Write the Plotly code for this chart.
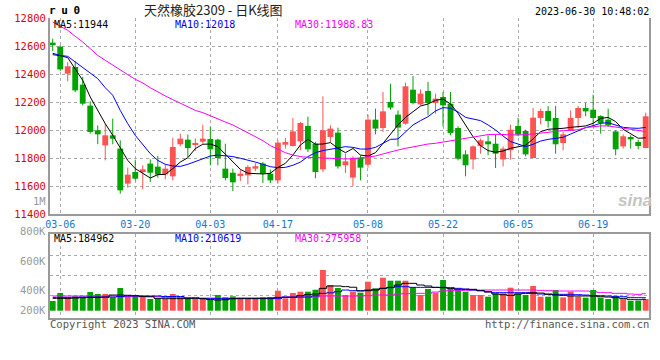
import plotly.graph_objects as go

# ---------------- data ----------------
dates = ["03-03",
         "03-06", "03-07", "03-08", "03-09", "03-10", "03-13", "03-14", "03-15", "03-16", "03-17",
         "03-20", "03-21", "03-22", "03-23", "03-24", "03-27", "03-28", "03-29", "03-30", "03-31",
         "04-03", "04-04", "04-06", "04-07", "04-10", "04-11", "04-12", "04-13", "04-14",
         "04-17", "04-18", "04-19", "04-20", "04-21", "04-24", "04-25", "04-26", "04-27", "04-28",
         "05-04", "05-05",
         "05-08", "05-09", "05-10", "05-11", "05-12", "05-15", "05-16", "05-17", "05-18", "05-19",
         "05-22", "05-23", "05-24", "05-25", "05-26", "05-29", "05-30", "05-31", "06-01", "06-02",
         "06-05", "06-06", "06-07", "06-08", "06-09", "06-12", "06-13", "06-14", "06-15", "06-16",
         "06-19", "06-20", "06-21", "06-26", "06-27", "06-28", "06-29", "06-30"]

opens = [12624, 12595, 12402, 12450, 12324, 12174, 11998, 11890, 11962, 11867,
         11617, 11700, 11700, 11760, 11738, 11683, 11669, 11898, 11931, 11895,
         11917, 11936, 11931, 11724, 11695, 11671, 11676, 11724, 11760, 11688,
         11640, 11895, 11886, 11919, 12029, 11902, 11719, 11950, 11981, 11748,
         11660, 11800, 11752, 12074, 12014, 12200, 12110, 12045, 12288, 12183,
         12279, 12193, 12236, 12188, 12014, 11826, 11790, 11886, 11919, 11902,
         11790, 11855, 12029, 11993, 11800, 12086, 12136, 12086, 11907, 11993,
         12086, 12157, 12145, 12100, 12074, 11990, 11883, 11950, 11914, 11871]
highs = [12652, 12605, 12486, 12490, 12379, 12205, 12033, 12045, 12081, 11926,
         11731, 11788, 11748, 11790, 11814, 11755, 11943, 11974, 11967, 11940,
         12038, 12021, 11938, 11902, 11724, 11717, 11748, 11764, 11771, 11717,
         11926, 11943, 12086, 12057, 12095, 11914, 12240, 12033, 12017, 11831,
         11812, 11819, 12110, 12152, 12271, 12331, 12140, 12338, 12386, 12290,
         12343, 12260, 12271, 12271, 12026, 11855, 11890, 11938, 11962, 11969,
         11883, 12038, 12086, 12002, 12157, 12152, 12171, 12171, 11986, 12140,
         12171, 12193, 12252, 12105, 12152, 11998, 11969, 11962, 11931, 12124]
lows = [12564, 12421, 12348, 12271, 12176, 11974, 11898, 11783, 11898, 11545,
        11588, 11640, 11576, 11629, 11660, 11648, 11640, 11883, 11807, 11850,
        11902, 11748, 11748, 11640, 11564, 11636, 11612, 11707, 11621, 11621,
        11617, 11867, 11883, 11855, 11843, 11655, 11700, 11914, 11724, 11693,
        11598, 11640, 11731, 11969, 11986, 12145, 11883, 12038, 12183, 12176,
        12105, 12117, 12026, 11962, 11783, 11669, 11719, 11831, 11819, 11729,
        11740, 11788, 11955, 11812, 11800, 12040, 12017, 11831, 11855, 11993,
        12014, 12098, 12026, 11974, 12021, 11819, 11867, 11867, 11862, 11871]
closes = [12605, 12433, 12455, 12283, 12188, 11986, 11969, 11962, 11938, 11569,
          11681, 11652, 11719, 11695, 11681, 11724, 11879, 11938, 11871, 11907,
          11938, 11862, 11800, 11657, 11626, 11688, 11736, 11741, 11688, 11640,
          11910, 11914, 11990, 12050, 11862, 11700, 11998, 12010, 11740, 11776,
          11802, 11731, 12074, 12010, 12133, 12160, 12017, 12312, 12193, 12260,
          12193, 12224, 12176, 11979, 11795, 11748, 11883, 11926, 11898, 11831,
          11867, 12002, 11967, 11826, 12088, 12136, 12064, 11898, 11969, 12086,
          12157, 12133, 12086, 12050, 12033, 11862, 11955, 11933, 11886, 12098]

ma5 = [12538, 12531, 12517, 12438, 12355, 12236, 12140, 12045, 11962, 11867,
       11783, 11724, 11693, 11657, 11681, 11683, 11724, 11771, 11802, 11867,
       11898, 11900, 11881, 11829, 11774, 11719, 11691, 11686, 11686, 11691,
       11733, 11762, 11821, 11893, 11933, 11898, 11900, 11910, 11869, 11838,
       11868, 11821, 11814, 11838, 11905, 11971, 12036, 12090, 12131, 12171,
       12186, 12212, 12221, 12186, 12119, 12036, 11952, 11888, 11853, 11841,
       11850, 11869, 11881, 11891, 11936, 11988, 12005, 12007, 12012, 12019,
       12024, 12029, 12048, 12083, 12090, 12060, 12005, 11972, 11941, 11944]
ma10 = [12548, 12533, 12526, 12486, 12450, 12407, 12367, 12302, 12248, 12140,
        12045, 11962, 11898, 11831, 11783, 11755, 11743, 11740, 11755, 11776,
        11795, 11814, 11821, 11817, 11810, 11798, 11786, 11771, 11755, 11738,
        11731, 11733, 11748, 11771, 11810, 11838, 11853, 11864, 11874, 11881,
        11876, 11864, 11864, 11876, 11905, 11933, 11936, 11988, 12036, 12067,
        12095, 12136, 12160, 12155, 12129, 12090, 12081, 12067, 12036, 12000,
        11957, 11917, 11900, 11881, 11898, 11921, 11933, 11938, 11948, 11971,
        11995, 12017, 12031, 12048, 12052, 12036, 12019, 12014, 12012, 12018]
ma30 = [12771, 12740, 12712, 12669, 12629, 12581, 12533, 12498, 12462, 12426,
        12395, 12362, 12336, 12302, 12271, 12243, 12217, 12193, 12169, 12140,
        12124, 12100, 12081, 12057, 12036, 12007, 11983, 11952, 11924, 11888,
        11862, 11838, 11821, 11810, 11805, 11802, 11800, 11798, 11793, 11793,
        11795, 11802, 11810, 11814, 11829, 11845, 11857, 11869, 11881, 11891,
        11900, 11905, 11914, 11924, 11931, 11941, 11948, 11957, 11967, 11969,
        11967, 11964, 11964, 11967, 11971, 11976, 11983, 11991, 11995, 11998,
        12002, 12017, 12024, 12029, 12029, 12022, 12014, 12007, 12000, 11988.83]

volumes = [157000, 287000, 217000, 233000, 217000, 303000, 271000, 271000, 217000, 368000,
           233000, 233000, 233000, 190000, 201000, 190000, 271000, 217000, 201000, 190000,
           190000, 173000, 254000, 217000, 233000, 190000, 190000, 190000, 217000, 217000,
           324000, 201000, 287000, 308000, 308000, 340000, 659000, 416000, 368000, 254000,
           308000, 292000, 470000, 362000, 535000, 486000, 486000, 486000, 378000, 254000,
           351000, 292000, 497000, 362000, 335000, 308000, 254000, 254000, 227000, 281000,
           281000, 373000, 281000, 254000, 400000, 227000, 227000, 335000, 216000, 308000,
           227000, 211000, 335000, 211000, 189000, 243000, 189000, 162000, 162000, 189000]
vol_ma5 = [200000, 200000, 200000, 205000, 210000, 216000, 216000, 220000, 254000, 254000,
           250000, 243000, 232000, 227000, 200000, 195000, 195000, 195000, 195000, 200000,
           195000, 180000, 173000, 178000, 195000, 200000, 200000, 200000, 200000, 205000,
           216000, 216000, 216000, 243000, 260000, 270000, 362000, 400000, 400000, 390000,
           380000, 320000, 324000, 335000, 362000, 378000, 416000, 443000, 443000, 416000,
           400000, 378000, 373000, 362000, 346000, 346000, 346000, 324000, 302000, 270000,
           259000, 248000, 270000, 281000, 292000, 286000, 265000, 254000, 248000, 238000,
           238000, 238000, 238000, 227000, 221000, 211000, 200000, 184000, 178000, 184962]
vol_ma10 = [216000, 216000, 216000, 216000, 221000, 221000, 221000, 221000, 221000, 230000,
            238000, 238000, 238000, 238000, 238000, 230000, 230000, 230000, 205000, 205000,
            195000, 195000, 195000, 195000, 195000, 195000, 195000, 195000, 195000, 195000,
            195000, 221000, 221000, 221000, 221000, 240000, 281000, 290000, 308000, 335000,
            324000, 324000, 335000, 346000, 362000, 373000, 389000, 389000, 378000, 378000,
            378000, 378000, 378000, 373000, 362000, 351000, 335000, 324000, 308000, 292000,
            292000, 292000, 292000, 292000, 281000, 270000, 270000, 265000, 265000, 265000,
            259000, 254000, 243000, 243000, 238000, 227000, 227000, 216000, 211000, 210619]
vol_ma30 = [238000, 238000, 238000, 238000, 238000, 238000, 238000, 238000, 238000, 227000,
            227000, 227000, 227000, 227000, 227000, 215000, 215000, 215000, 215000, 215000,
            205000, 205000, 205000, 205000, 205000, 205000, 205000, 205000, 205000, 205000,
            205000, 221000, 221000, 221000, 221000, 221000, 238000, 238000, 238000, 238000,
            238000, 238000, 243000, 254000, 254000, 254000, 270000, 275000, 281000, 281000,
            281000, 302000, 319000, 324000, 324000, 329000, 335000, 335000, 335000, 335000,
            335000, 335000, 335000, 335000, 335000, 329000, 324000, 319000, 319000, 319000,
            319000, 319000, 308000, 297000, 292000, 281000, 281000, 270000, 265000, 275958]

date_ticks = ["03-06", "03-20", "04-03", "04-17", "05-08", "05-22", "06-05", "06-19"]
price_ticks = [11400, 11600, 11800, 12000, 12200, 12400, 12600, 12800]
vol_tick_labels = ["1M", "800K", "600K", "400K", "200K"]

symbol = "ru0"
title_text = "天然橡胶2309 - 日K线图"
timestamp = "2023-06-30 10:48:02"

# ---------------- styling ----------------
RED = "#ff5353"
GREEN = "#00a300"
GRID = "#aaaaaa"
FRAME = "#9a9a9a"
MONO = "DejaVu Sans Mono"

W, H = 660, 360
ML, MR, MT, MB = 50, 11, 18, 42
PW, PH = W - ML - MR, H - MT - MB


def px(x):
    return (x - ML) / PW


def py(y):
    return (H - MB - y) / PH


is_up = [c >= o for o, c in zip(opens, closes)]
colors = [RED if u else GREEN for u in is_up]

fig = go.Figure()

# bodies first (fixes category order)
fig.add_trace(go.Bar(x=dates, y=[abs(c - o) for o, c in zip(opens, closes)],
                     base=[min(o, c) for o, c in zip(opens, closes)],
                     marker=dict(color=colors, line=dict(width=0)), width=0.78,
                     xaxis="x", yaxis="y"))

# wicks
for flag, col in ((True, RED), (False, GREEN)):
    xs, ys = [], []
    for d, h, l, u in zip(dates, highs, lows, is_up):
        if u == flag:
            xs += [d, d, None]
            ys += [l, h, None]
    fig.add_trace(go.Scatter(x=xs, y=ys, mode="lines", line=dict(color=col, width=1),
                             hoverinfo="skip", xaxis="x", yaxis="y"))

for arr, col in ((ma5, "#000000"), (ma10, "#0000ff"), (ma30, "#ff00ff")):
    fig.add_trace(go.Scatter(x=dates, y=arr, mode="lines", line=dict(color=col, width=1),
                             xaxis="x", yaxis="y"))

# volume
fig.add_trace(go.Bar(x=dates, y=volumes, marker=dict(color=colors, line=dict(width=0)),
                     width=0.78, xaxis="x2", yaxis="y2"))
for arr, col in ((vol_ma30, "#ff00ff"), (vol_ma10, "#0000ff"), (vol_ma5, "#000000")):
    fig.add_trace(go.Scatter(x=dates, y=arr, mode="lines", line=dict(color=col, width=1, shape="hvh"),
                             xaxis="x2", yaxis="y2"))

xr = [-0.36, len(dates) - 1 + 0.44]
price_dom = [py(214), 1]
vol_dom = [0, py(234.3)]
# volume axis: 0 at y=310.7 px, 16.2K per pixel
vscale = 16200
vlo = -(H - MB - 310.7) * vscale
vhi = vlo + (vol_dom[1] - vol_dom[0]) * PH * vscale

common_x = dict(type="category", categoryorder="array", categoryarray=dates,
                range=xr, domain=[0, 1], tickvals=date_ticks, ticks="", tickangle=0,
                showgrid=True, gridcolor=GRID, griddash="dot", gridwidth=1, automargin=False,
                showline=True, linecolor=FRAME, linewidth=2, zeroline=False)
common_y = dict(ticks="", showgrid=True, gridcolor=GRID, griddash="dot", gridwidth=1,
                automargin=False, showline=True, linecolor=FRAME, linewidth=2,
                mirror=True, zeroline=False)

fig.update_layout(
    width=W, height=H, margin=dict(l=ML, r=MR, t=MT, b=MB, autoexpand=False),
    paper_bgcolor="white", plot_bgcolor="white", showlegend=False,
    barmode="overlay", hovermode=False,
    xaxis=dict(common_x, anchor="y", ticktext=date_ticks, mirror=False,
               tickfont=dict(family=MONO, size=10, color="#1577d0")),
    yaxis=dict(common_y, range=[11400, 12800], domain=price_dom, anchor="x",
               tickvals=price_ticks, tickformat="d",
               tickfont=dict(family=MONO, size=10.5, color="#e60000")),
    xaxis2=dict(common_x, anchor="y2", showticklabels=False, mirror=True),
    yaxis2=dict(common_y, range=[vlo, vhi], domain=vol_dom, anchor="x2",
                tickvals=[243000, 567000, 902000], showticklabels=False),
)

ann = []


def add(text, x, y, color="#000", size=10, anchor="left", family=MONO, **kw):
    ann.append(dict(text=text, x=px(x), y=py(y), xref="paper", yref="paper",
                    xanchor=anchor, yanchor="middle", showarrow=False, borderpad=0,
                    font=dict(family=family, size=size, color=color, **kw)))


add('<span style="letter-spacing:5.6px">' + symbol + '</span>', 48, 11, size=11, weight="bold")
add(title_text, 213, 9.5, color="#222", size=13, anchor="center", family="Noto Sans CJK SC")
add(timestamp, 650, 12, anchor="right")
add(f"MA5:{ma5[-1]}", 53, 24)
add(f"MA10:{ma10[-1]}", 174, 24, color="#0000ff")
add(f"MA30:{ma30[-1]}", 294, 24, color="#ff00ff")
add(f"MA5:{vol_ma5[-1]}", 53, 238.5)
add(f"MA10:{vol_ma10[-1]}", 174, 238.5, color="#0000ff")
add(f"MA30:{vol_ma30[-1]}", 294, 238.5, color="#ff00ff")
for lab, yy in zip(vol_tick_labels, [200.7, 230.7, 261, 290.3, 310.3]):
    add(lab, 47, yy, color="#999999", size=10.5, anchor="right")
add("Copyright 2023 SINA.COM", 49, 324, color="#555555", size=10.5)
add("http://finance.sina.com.cn", 650, 324, color="#555555", size=10.5, anchor="right")
add("sina", 635, 200, color="#c4c4c4", size=17, anchor="center", family="Liberation Sans",
    weight="bold", style="italic")

fig.update_layout(annotations=ann)
fig.write_html("out.html", config={"displayModeBar": False},
               post_script="document.body.style.margin='0';")
